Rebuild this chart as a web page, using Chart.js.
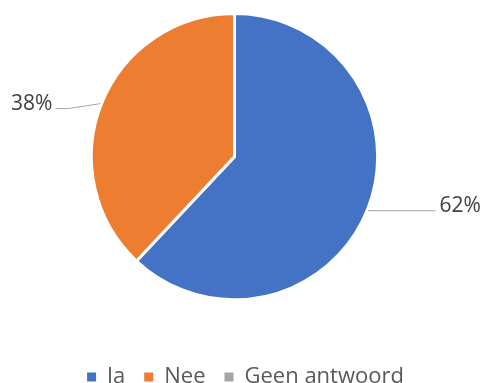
<!DOCTYPE html>
<html>
<head>
<meta charset="utf-8">
<script src="https://cdn.jsdelivr.net/npm/chart.js@4"></script>
<style>
  html, body { margin: 0; padding: 0; background: #fff; overflow: hidden; }
  #wrap { width: 483px; height: 383px; overflow: hidden; }
</style>
</head>
<body>
<div id="wrap"><canvas id="pieChart" width="483" height="430"></canvas></div>
<script>
// answers and their share (percent)
const categories = ['Ja', 'Nee', 'Geen antwoord'];
const shares = [62, 38, 0];
const colors = ['#4472C4', '#ED7D31', '#A5A5A5'];

const FONT = '"Open Sans", Lato, sans-serif';

// percentage labels outside the pie with a grey leader line
const leaderLabels = {
    id: 'leaderLabels',
    afterLayout(chart) {
        // legend sits a little right of the pie centre in the original
        chart.legend.left += 11;
        chart.legend.right += 11;
    },
    afterDatasetsDraw(chart) {
        const ctx = chart.ctx;
        const meta = chart.getDatasetMeta(0);
        ctx.save();
        ctx.font = '21px ' + FONT;
        ctx.textBaseline = 'middle';
        meta.data.forEach((arc, i) => {
            const v = shares[i];
            if (!v) return;
            const p = arc.getProps(['x', 'y', 'startAngle', 'endAngle', 'outerRadius'], true);
            const mid = (p.startAngle + p.endAngle) / 2;
            const r = p.outerRadius;
            const sx = p.x + Math.cos(mid) * (r + 1);
            const sy = p.y + Math.sin(mid) * (r + 1);
            const right = Math.cos(mid) >= 0;
            ctx.strokeStyle = '#A6A6A6';
            ctx.lineWidth = 1;
            ctx.beginPath();
            ctx.moveTo(sx, sy);
            let ex, ey;
            if (right) {
                ex = sx + 67; ey = sy + 1;
                ctx.lineTo(sx, ey);
                ctx.lineTo(ex, ey);
            } else {
                const kx = sx - 32, ky = sy + 5;
                ctx.lineTo(kx, ky);
                ex = kx - 13; ey = ky;
                ctx.lineTo(ex, ey);
            }
            ctx.stroke();
            ctx.fillStyle = '#404040';
            ctx.textAlign = right ? 'left' : 'right';
            ctx.fillText(v + '%', right ? ex + 4 : ex - 3, ey - 5);
        });
        ctx.restore();
    }
};

const ctx = document.getElementById('pieChart').getContext('2d');
const pieChart = new Chart(ctx, {
    type: 'pie',
    data: {
        labels: categories,
        datasets: [{
            data: shares,
            backgroundColor: colors,
            borderColor: '#ffffff',
            borderWidth: 3
        }]
    },
    options: {
        responsive: false,
        animation: false,
        layout: { padding: { top: 12, bottom: 32, right: 14 } },
        plugins: {
            tooltip: { enabled: false },
            legend: {
                position: 'bottom',
                title: { display: true, text: ' ', font: { size: 1 }, padding: { top: 44.5, bottom: 0 } },
                labels: {
                    boxWidth: 9,
                    boxHeight: 9,
                    padding: 19,
                    color: '#595959',
                    font: { family: FONT, size: 22 },
                    generateLabels(chart) {
                        const items = Chart.controllers.pie.overrides.plugins.legend.labels.generateLabels(chart);
                        items.forEach(it => { it.lineWidth = 0; it.strokeStyle = 'transparent'; });
                        return items;
                    }
                }
            }
        }
    },
    plugins: [leaderLabels]
});
</script>
</body>
</html>
